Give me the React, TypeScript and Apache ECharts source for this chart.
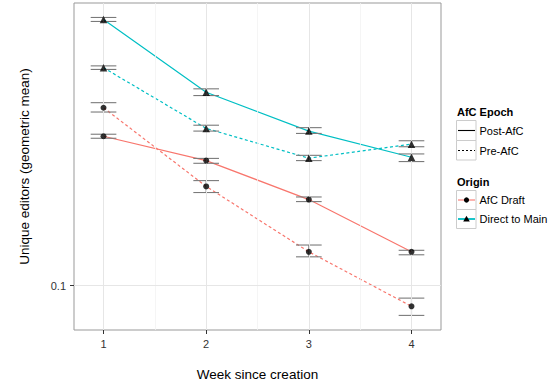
import React, { useEffect, useRef } from "react";
import * as echarts from "echarts";

// ---- data ----
const weeks = [1, 2, 3, 4];

const draftPost = [0.319, 0.264, 0.195, 0.13];
const draftPostLow = [0.314, 0.2585, 0.192, 0.127];
const draftPostHigh = [0.324, 0.2685, 0.199, 0.1315];

const draftPre = [0.398, 0.216, 0.13, 0.0851];
const draftPreLow = [0.385, 0.206, 0.125, 0.0793];
const draftPreHigh = [0.414, 0.226, 0.137, 0.0907];

const directPost = [0.79, 0.449, 0.332, 0.271];
const directPostLow = [0.778, 0.4375, 0.326, 0.262];
const directPostHigh = [0.8025, 0.461, 0.341, 0.278];

const directPre = [0.543, 0.339, 0.269, 0.3];
const directPreLow = [0.536, 0.332, 0.264, 0.294];
const directPreHigh = [0.551, 0.3475, 0.275, 0.308];

const xTicks = [1, 2, 3, 4];
const xMinorGrid = [1.5, 2.5, 3.5];
const yTicks = [0.1];
const xLimits = [0.7125, 4.2875];
const yLimits = [0.0708, 0.898];

const RED = "#F8766D";
const CYAN = "#00BFC4";
const FONT = "'Liberation Sans', Arial, Helvetica, sans-serif";
const CAP = 0.125;

function pairs(ys: number[]) {
  return weeks.map((w, i) => [w, ys[i]]);
}
function bars(lo: number[], hi: number[]) {
  return weeks.map((w, i) => [w, lo[i], hi[i]]);
}

export default function App() {
  const ref = useRef<HTMLDivElement>(null);
  useEffect(() => {
    document.body.style.margin = "0";
    const chart = echarts.init(ref.current!, null, { renderer: "svg" });

    const errData = [
      ...bars(draftPostLow, draftPostHigh),
      ...bars(draftPreLow, draftPreHigh),
      ...bars(directPostLow, directPostHigh),
      ...bars(directPreLow, directPreHigh),
    ];

    const lineSeries = (data: number[], color: string, dashed: boolean) => ({
      type: "line",
      data: pairs(data),
      showSymbol: false,
      symbol: "none",
      silent: true,
      z: 3,
      lineStyle: { color, width: 1.2, type: dashed ? [3, 2.5] : "solid" },
    });
    const pointSeries = (data: number[], symbol: string, size: number) => ({
      type: "scatter",
      data: pairs(data),
      symbol,
      symbolSize: size,
      silent: true,
      z: 5,
      itemStyle: { color: "#000" },
    });

    const legendText = (text: string, x: number, y: number, bold = false) => ({
      type: "text",
      x,
      y,
      style: {
        text,
        fill: "#000",
        fontSize: 11,
        fontWeight: bold ? "bold" : "normal",
        fontFamily: FONT,
        verticalAlign: "middle",
        align: "left",
      },
    });
    const keyBox = (y: number, h: number) => ({
      type: "rect",
      shape: { x: 456.5, y, width: 19.5, height: h },
      style: { fill: "#fff", stroke: "#cccccc", lineWidth: 1 },
    });

    chart.setOption({
      animation: false,
      backgroundColor: "#fff",
      textStyle: { fontFamily: FONT },
      grid: {
        left: 74,
        top: 3,
        width: 367,
        height: 331,
        show: true,
        borderColor: "#999",
        borderWidth: 1,
        backgroundColor: "#fff",
      },
      xAxis: {
        type: "value",
        min: xLimits[0],
        max: xLimits[1],
        axisLine: { show: false },
        splitLine: { show: false },
        axisTick: { show: true, customValues: xTicks, length: 4, lineStyle: { color: "#333" } },
        axisLabel: { customValues: xTicks, fontSize: 11, color: "#333", margin: 8, fontFamily: FONT },
        name: "Week since creation",
        nameLocation: "middle",
        nameGap: 37,
        nameTextStyle: { fontSize: 13.5, color: "#000", fontFamily: FONT },
      },
      yAxis: {
        type: "log",
        logBase: 10,
        min: yLimits[0],
        max: yLimits[1],
        axisLine: { show: false },
        splitLine: { show: false },
        axisTick: { show: true, customValues: yTicks, length: 4, lineStyle: { color: "#333" } },
        axisLabel: { customValues: yTicks, fontSize: 11, color: "#333", margin: 8, fontFamily: FONT },
        name: "Unique editors (geometric mean)",
        nameLocation: "middle",
        nameRotate: 90,
        nameGap: 43,
        nameTextStyle: { fontSize: 13.5, color: "#000", fontFamily: FONT },
      },
      series: [
        {
          type: "line",
          data: [],
          silent: true,
          z: 1,
          markLine: {
            silent: true,
            symbol: "none",
            label: { show: false },
            animation: false,
            data: [
              ...xMinorGrid.map((v) => ({ xAxis: v, lineStyle: { color: "#f3f3f3", width: 0.8, type: "solid" } })),
              ...xTicks.map((v) => ({ xAxis: v, lineStyle: { color: "#e6e6e6", width: 1, type: "solid" } })),
              ...yTicks.map((v) => ({ yAxis: v, lineStyle: { color: "#e6e6e6", width: 1, type: "solid" } })),
            ],
          },
        },
        lineSeries(draftPost, RED, false),
        lineSeries(draftPre, RED, true),
        lineSeries(directPost, CYAN, false),
        lineSeries(directPre, CYAN, true),
        {
          type: "custom",
          data: errData,
          silent: true,
          z: 4,
          encode: { x: 0, y: [1, 2] },
          renderItem: (_params: any, api: any) => {
            const x = api.value(0);
            const lo = api.value(1);
            const hi = api.value(2);
            const a = api.coord([x, lo]);
            const b = api.coord([x, hi]);
            const aL = api.coord([x - CAP, lo]);
            const aR = api.coord([x + CAP, lo]);
            const bL = api.coord([x - CAP, hi]);
            const bR = api.coord([x + CAP, hi]);
            const st = { stroke: "#7a7a7a", lineWidth: 1.1 };
            return {
              type: "group",
              children: [
                { type: "line", shape: { x1: a[0], y1: a[1], x2: b[0], y2: b[1] }, style: st },
                { type: "line", shape: { x1: aL[0], y1: aL[1], x2: aR[0], y2: aR[1] }, style: st },
                { type: "line", shape: { x1: bL[0], y1: bL[1], x2: bR[0], y2: bR[1] }, style: st },
              ],
            };
          },
        },
        pointSeries(draftPost, "circle", 6),
        pointSeries(draftPre, "circle", 6),
        pointSeries(directPost, "triangle", 7.5),
        pointSeries(directPre, "triangle", 7.5),
      ],
      graphic: [
        legendText("AfC Epoch", 457, 112, true),
        keyBox(120.5, 20),
        keyBox(140.5, 19.5),
        { type: "line", shape: { x1: 458, y1: 130.5, x2: 475, y2: 130.5 }, style: { stroke: "#000", lineWidth: 1.1 } },
        { type: "line", shape: { x1: 458, y1: 150.5, x2: 475, y2: 150.5 }, style: { stroke: "#000", lineWidth: 1.1, lineDash: [2, 2] } },
        legendText("Post-AfC", 479.5, 130.5),
        legendText("Pre-AfC", 479.5, 150.5),
        legendText("Origin", 457, 182, true),
        keyBox(190.5, 19),
        keyBox(209.5, 19),
        { type: "line", shape: { x1: 458, y1: 200, x2: 475, y2: 200 }, style: { stroke: RED, lineWidth: 1.1 } },
        { type: "circle", shape: { cx: 466.5, cy: 200, r: 2.6 }, style: { fill: "#000" } },
        { type: "line", shape: { x1: 458, y1: 219, x2: 475, y2: 219 }, style: { stroke: CYAN, lineWidth: 1.8 } },
        { type: "polygon", shape: { points: [[466.5, 215.8], [469.8, 221.4], [463.2, 221.4]] }, style: { fill: "#000" } },
        legendText("AfC Draft", 479.5, 200),
        legendText("Direct to Main", 479.5, 219),
      ],
    });
    return () => chart.dispose();
  }, []);
  return <div ref={ref} style={{ width: 558, height: 386 }} />;
}
